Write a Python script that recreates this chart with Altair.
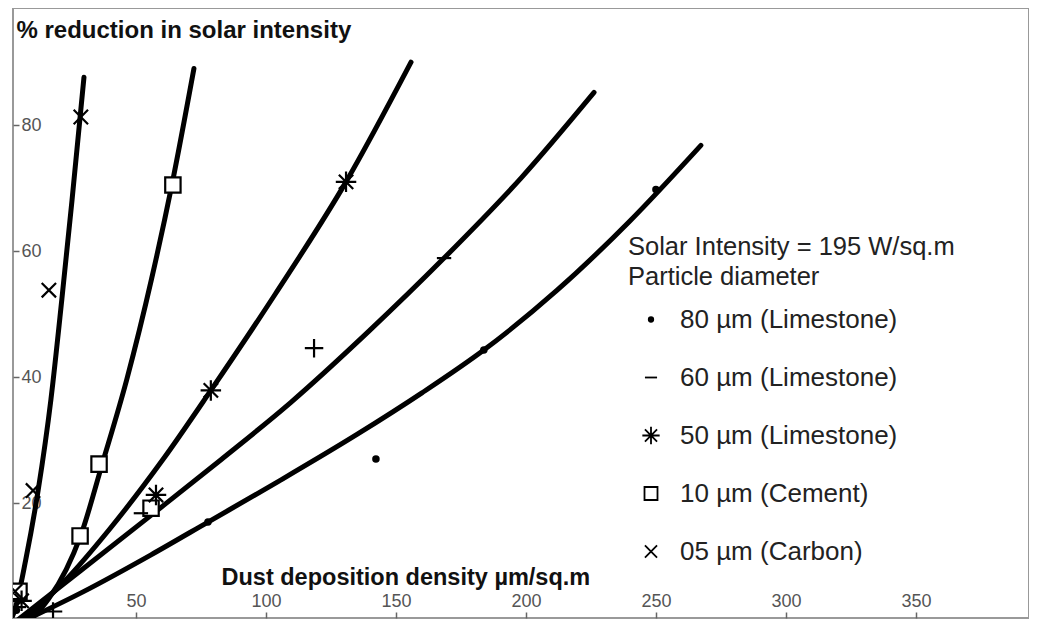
import altair as alt
import pandas as pd

W, H = 1016, 610
FONT = "Liberation Sans"

series = ["80 µm (Limestone)", "60 µm (Limestone)", "50 µm (Limestone)",
          "10 µm (Cement)", "05 µm (Carbon)"]
plus_name = "60 µm (Limestone) +"

# curves
curve80_x = [0, 30.0, 55.8, 77.7, 105.0, 135.0, 160.0, 183.8, 212.0, 240.0, 267.3]
curve80_y = [0, 6.0, 11.8, 17.0, 23.5, 30.9, 37.5, 44.3, 53.8, 64.8, 76.8]
curve60_x = [0, 28.8, 56.5, 82.7, 109.6, 139.6, 168.5, 198.1, 226.2]
curve60_y = [0, 9.3, 18.3, 26.9, 36.0, 47.3, 58.9, 71.6, 85.2]
curve50_x = [0, 9.1, 23.2, 39.9, 60.5, 78.8, 103.6, 130.8, 155.8]
curve50_y = [0, 2.4, 7.9, 15.9, 27.0, 37.9, 53.2, 71.0, 90.0]
curve10_x = [0, 9.5, 16.4, 23.2, 28.7, 37.0, 46.5, 56.0, 63.8, 72.3]
curve10_y = [0, 1.6, 4.8, 9.5, 14.8, 26.2, 39.7, 55.6, 70.5, 89.0]
curve05_x = [0, 3.5, 7.6, 12.4, 17.3, 21.5, 25.4, 30.0]
curve05_y = [0, 3.2, 11.0, 22.1, 36.5, 52.4, 68.1, 87.6]

# measured points
pts80_x = [4.0, 77.7, 142.3, 183.8, 250.0]
pts80_y = [3.0, 17.0, 27.0, 44.3, 69.8]
pts60_x = [5.0, 51.9, 168.5]
pts60_y = [3.5, 18.4, 58.9]
plus60_x = [18.1, 118.5]
plus60_y = [2.8, 44.6]
pts50_x = [6.0, 57.7, 78.8, 130.8]
pts50_y = [4.5, 21.3, 37.9, 71.0]
pts10_x = [5.0, 28.5, 35.8, 55.8, 64.2]
pts10_y = [6.0, 14.8, 26.2, 19.2, 70.5]
pts05_x = [3.5, 10.4, 16.5, 28.8]
pts05_y = [6.0, 22.0, 53.8, 81.3]

x_ticks = [50, 100, 150, 200, 250, 300, 350]
y_ticks = [20, 40, 60, 80]

curves = [(series[0], curve80_x, curve80_y), (series[1], curve60_x, curve60_y),
          (series[2], curve50_x, curve50_y), (series[3], curve10_x, curve10_y),
          (series[4], curve05_x, curve05_y)]
pts = [(series[0], pts80_x, pts80_y), (series[1], pts60_x, pts60_y),
       (plus_name, plus60_x, plus60_y),
       (series[2], pts50_x, pts50_y), (series[3], pts10_x, pts10_y),
       (series[4], pts05_x, pts05_y)]

line_df = pd.DataFrame([{"s": s, "x": a, "y": b, "i": k}
                        for s, xs, ys in curves for k, (a, b) in enumerate(zip(xs, ys))])
pt_df = pd.DataFrame([{"s": s, "x": a, "y": b}
                      for s, xs, ys in pts for a, b in zip(xs, ys)])

shape_domain = series + [plus_name]
shape_range = [
    "M-0.1,0A0.1,0.1 0 1,0 0.1,0A0.1,0.1 0 1,0 -0.1,0"
    "M-0.2,0A0.2,0.2 0 1,0 0.2,0A0.2,0.2 0 1,0 -0.2,0"
    "M-0.26,0A0.26,0.26 0 1,0 0.26,0A0.26,0.26 0 1,0 -0.26,0",   # dot
    "M-0.7,0L0.7,0",                                              # dash
    "M-1,0L1,0M0,-1L0,1M-0.7,-0.7L0.7,0.7M-0.7,0.7L0.7,-0.7",     # asterisk
    "M-0.75,-0.75H0.75V0.75H-0.75Z",                              # square
    "M-0.7,-0.7L0.7,0.7M-0.7,0.7L0.7,-0.7",                       # cross
    "M-0.9,0L0.9,0M0,-0.9L0,0.9",                                 # plus
]

xscale = alt.Scale(domain=[2.7, 393.5], nice=False, zero=False)
yscale = alt.Scale(domain=[1.77, 98.6], nice=False, zero=False)

x_axis = alt.Axis(orient="top", offset=-H, values=x_ticks, domain=False, grid=False,
                  tickColor="#666", tickSize=6, tickWidth=1.5, labelPadding=2,
                  labelFont=FONT, labelFontSize=18, labelColor="#555",
                  title="Dust deposition density µm/sq.m", titleFont=FONT,
                  titleFontSize=23.5, titleFontWeight="bold", titleColor="#111",
                  titleAlign="left", titleBaseline="alphabetic", titleAnchor="start",
                  titleX=208, titleY=-34)
y_axis = alt.Axis(orient="right", offset=-W, values=y_ticks, domain=False, grid=False,
                  tickColor="#666", tickSize=6, tickWidth=1.5, labelPadding=2,
                  labelFont=FONT, labelFontSize=18, labelColor="#555",
                  title="% reduction in solar intensity", titleFont=FONT,
                  titleFontSize=24, titleFontWeight="bold", titleColor="#111",
                  titleAngle=0, titleAlign="left", titleBaseline="alphabetic",
                  titleAnchor="start", titleX=3, titleY=29)

lines = alt.Chart(line_df).mark_line(color="black", strokeWidth=5, clip=True,
                                     interpolate="monotone", strokeCap="round").encode(
    x=alt.X("x:Q", scale=xscale, axis=x_axis),
    y=alt.Y("y:Q", scale=yscale, axis=y_axis),
    detail="s:N",
    order="i:Q",
)

white_sq = alt.Chart(pt_df).transform_filter(
    alt.datum.s == series[3]
).mark_square(color="white", opacity=1, size=230, clip=True).encode(
    x=alt.X("x:Q", scale=xscale),
    y=alt.Y("y:Q", scale=yscale),
)

points = alt.Chart(pt_df).mark_point(filled=False, color="black",
                                     strokeWidth=2.2, opacity=1, size=420, clip=True).encode(
    x=alt.X("x:Q", scale=xscale),
    y=alt.Y("y:Q", scale=yscale),
    shape=alt.Shape("s:N", scale=alt.Scale(domain=shape_domain, range=shape_range),
                    legend=alt.Legend(
                        orient="none", legendX=615, legendY=227,
                        values=series,
                        title=["Solar Intensity = 195 W/sq.m", "Particle diameter"],
                        titleFont=FONT, titleFontSize=25.5, titleFontWeight="normal",
                        titleColor="#222", titleLineHeight=30, titlePadding=16,
                        titleLimit=600,
                        labelFont=FONT, labelFontSize=26, labelColor="#222",
                        labelLimit=400, labelOffset=16,
                        symbolSize=300, symbolStrokeWidth=1.8,
                        symbolStrokeColor="black", symbolType="circle",
                        symbolOffset=10, rowPadding=32)),
)

chart = alt.layer(lines, white_sq, points).properties(
    width=W, height=H,
    padding={"left": 4, "top": 0, "right": 0, "bottom": 0},
    background="white",
).configure_view(stroke="#999", strokeWidth=2)

chart.save("out.html", embed_options={"renderer": "svg", "actions": False})
